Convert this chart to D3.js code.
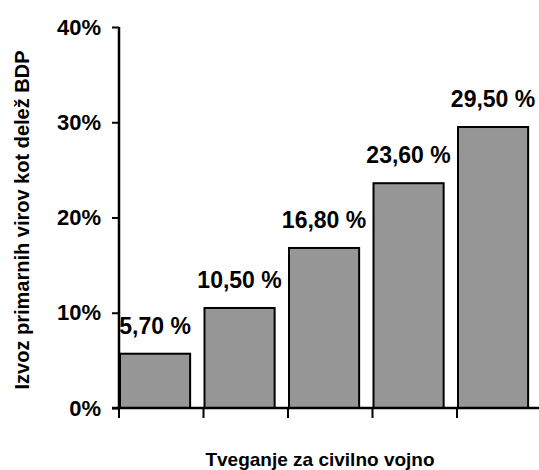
<!DOCTYPE html>
<html>
<head>
<meta charset="utf-8">
<script src="https://cdn.jsdelivr.net/npm/d3@7"></script>
<style>
  body { margin: 0; background: #fff; }
  text { font-family: "Liberation Sans", Arial, sans-serif; font-weight: bold; fill: #000; }
</style>
</head>
<body>
<script>
// categories have no printed names in the chart
const categories = ['k1', 'k2', 'k3', 'k4', 'k5'];
const values = [0.057, 0.105, 0.168, 0.236, 0.295];
const valueLabels = ['5,70 %', '10,50 %', '16,80 %', '23,60 %', '29,50 %'];
const yTicks = [0, 0.1, 0.2, 0.3, 0.4];

const W = 539, H = 470;
const mLeft = 119, mBottom = 408, mTop = 27;

const svg = d3.select('body').append('svg')
    .attr('width', W)
    .attr('height', H);

const x = d3.scaleBand()
    .domain(categories)
    .range([mLeft, mLeft + 5 * 84.5])
    .padding(0);

const y = d3.scaleLinear()
    .domain([0, 0.4])
    .range([mBottom, mTop]);

const barW = x.bandwidth() * 0.83;

// bars
svg.append('g').selectAll('rect')
    .data(values)
    .enter()
    .append('rect')
    .attr('x', (d, i) => x(categories[i]) + 1)
    .attr('y', d => y(d))
    .attr('width', barW)
    .attr('height', d => y(0) - y(d))
    .attr('fill', '#969696')
    .attr('stroke', '#000')
    .attr('stroke-width', 2);

// value labels
svg.append('g').selectAll('text')
    .data(values)
    .enter()
    .append('text')
    .attr('x', (d, i) => x(categories[i]) + 1 + barW / 2)
    .attr('y', d => y(d) - 20)
    .attr('text-anchor', 'middle')
    .style('font-size', '23px')
    .text((d, i) => valueLabels[i]);

// y axis
const yAxis = svg.append('g')
    .attr('transform', `translate(${mLeft},0)`)
    .call(d3.axisLeft(y).tickValues(yTicks).tickFormat(d3.format('.0%')).tickSize(7).tickPadding(11));
yAxis.select('.domain').attr('stroke', '#000').attr('stroke-width', 2.5)
    .attr('d', `M0,${mTop}V${mBottom}`);
yAxis.selectAll('.tick line').attr('stroke', '#000').attr('stroke-width', 2);
yAxis.selectAll('.tick text')
    .style('font-size', '22px')
    .style('font-family', '"Liberation Sans", Arial, sans-serif')
    .style('font-weight', 'bold');

// x axis
const xAxis = svg.append('g');
xAxis.append('line')
    .attr('x1', mLeft - 7)
    .attr('x2', W)
    .attr('y1', mBottom)
    .attr('y2', mBottom)
    .attr('stroke', '#000')
    .attr('stroke-width', 2.5);
xAxis.selectAll('.xt')
    .data(categories)
    .enter()
    .append('line')
    .attr('class', 'xt')
    .attr('x1', d => x(d))
    .attr('x2', d => x(d))
    .attr('y1', mBottom)
    .attr('y2', mBottom + 10)
    .attr('stroke', '#000')
    .attr('stroke-width', 2);

// axis titles
svg.append('text')
    .attr('transform', `translate(29,220) rotate(-90)`)
    .attr('text-anchor', 'middle')
    .style('font-size', '20px')
    .text('Izvoz primarnih virov kot delež BDP');

svg.append('text')
    .attr('x', 320)
    .attr('y', 466)
    .attr('text-anchor', 'middle')
    .style('font-size', '19px')
    .text('Tveganje za civilno vojno');
</script>
</body>
</html>
